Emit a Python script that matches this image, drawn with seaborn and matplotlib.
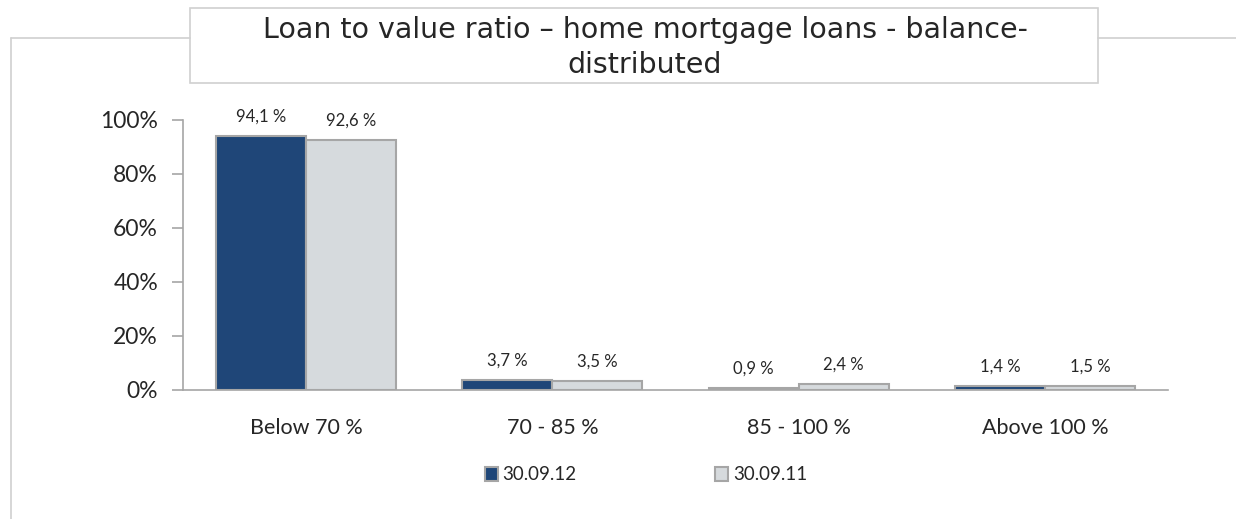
import pandas as pd
import matplotlib.pyplot as plt
import seaborn as sns
from matplotlib.lines import Line2D
from matplotlib.patches import Rectangle
from matplotlib.ticker import FixedLocator

# Data
categories = ['Below 70 %', '70 - 85 %', '85 - 100 %', 'Above 100 %']
series_names = ['30.09.12', '30.09.11']
values_2012 = [94.1, 3.7, 0.9, 1.4]
values_2011 = [92.6, 3.5, 2.4, 1.5]
y_ticks = [0, 20, 40, 60, 80, 100]

df = pd.DataFrame({
    'Category': categories * 2,
    'Date': [series_names[0]] * 4 + [series_names[1]] * 4,
    'Share': values_2012 + values_2011,
})

sns.set_style('white')
plt.rcParams['font.family'] = ['Lato', 'DejaVu Sans']

dark = '#1f4678'
light = '#d6dadd'
edge = '#a6a6a6'

fig = plt.figure(figsize=(12.36, 5.19), dpi=100)
ax = fig.add_axes([183 / 1236, 1 - 390 / 519, (1168 - 183) / 1236, (390 - 120) / 519])

sns.barplot(data=df, x='Category', y='Share', hue='Date', order=categories,
            hue_order=series_names, palette=[dark, light], width=0.73,
            saturation=1, edgecolor=edge, linewidth=1.5, ax=ax, legend=False)

ax.set_ylim(0, 100)
ax.set_xlim(-0.5, 3.5)
ax.set_yticks(y_ticks)
ax.set_yticklabels([f'{t}%' for t in y_ticks], fontsize=16.5, color='#262626')
ax.set_xticks(range(len(categories)))
ax.set_xticklabels(categories, fontsize=15.5, color='#262626')
ax.xaxis.set_minor_locator(FixedLocator([i - 0.5 for i in range(len(categories) + 1)]))
ax.tick_params(axis='x', which='major', length=0, pad=20)
ax.tick_params(axis='x', which='minor', length=8, color=edge, width=1.2)
ax.tick_params(axis='y', length=8, color=edge, width=1.2, pad=10, left=True)
ax.set_xlabel('')
ax.set_ylabel('')
for s in ['top', 'right']:
    ax.spines[s].set_visible(False)
for s in ['left', 'bottom']:
    ax.spines[s].set_color(edge)
    ax.spines[s].set_linewidth(1.2)

# value labels
for container in ax.containers:
    labels = [f'{v:.1f} %'.replace('.', ',') for v in container.datavalues]
    ax.bar_label(container, labels=labels, padding=8, fontsize=12, color='#262626')

# legend
handles = [Rectangle((0, 0), 1, 1, facecolor=c, edgecolor=edge, linewidth=1.5)
           for c in [dark, light]]
fig.legend(handles, series_names, loc='center', bbox_to_anchor=(646 / 1236, 1 - 475 / 519),
           ncol=2, frameon=False, fontsize=13.5, handlelength=0.7, handleheight=0.7,
           handletextpad=0.25, columnspacing=7.4)

# chart frame and title box
frame_color = '#d0d0d0'
fig.add_artist(Line2D([11 / 1236, 190 / 1236], [1 - 38 / 519] * 2, color=frame_color, lw=1.2))
fig.add_artist(Line2D([1098 / 1236, 1], [1 - 38 / 519] * 2, color=frame_color, lw=1.2))
fig.add_artist(Line2D([11 / 1236] * 2, [1 - 38 / 519, 0], color=frame_color, lw=1.2))
fig.add_artist(Rectangle((190 / 1236, 1 - 83 / 519), (1098 - 190) / 1236, 75 / 519,
                         transform=fig.transFigure, facecolor='white',
                         edgecolor=frame_color, lw=1.2))
fig.text(645 / 1236, 1 - 47.5 / 519, 'Loan to value ratio – home mortgage loans - balance-\ndistributed',
         ha='center', va='center', fontsize=20.5, family='DejaVu Sans',
         color='#262626', linespacing=1.35)

plt.savefig('out.png', dpi=100)
plt.close()
